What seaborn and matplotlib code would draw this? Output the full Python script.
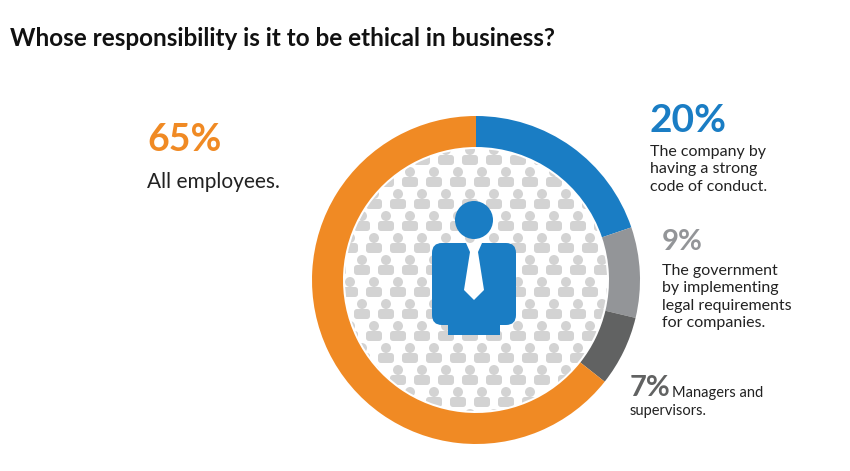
import numpy as np
import matplotlib.pyplot as plt
import matplotlib.patches as mpatches
import seaborn as sns

shares = [20, 9, 7, 65]
colors = ["#1a7dc4", "#939598", "#616262", "#f08a24"]
pcts = ["20%", "9%", "7%", "65%"]
labels = ["The company by\nhaving a strong\ncode of conduct.",
          "The government\nby implementing\nlegal requirements\nfor companies.",
          "Managers and\nsupervisors.",
          "All employees."]

sns.set_theme(style="white")
plt.rcParams['font.family'] = ['Lato', 'DejaVu Sans']

W, H = 850, 471
fig = plt.figure(figsize=(W / 100, H / 100), dpi=100)
ax = fig.add_axes([0, 0, 1, 1])
ax.set_xlim(0, W)
ax.set_ylim(0, H)
ax.set_aspect('equal')
ax.axis('off')

cx, cy = 476, H - 280
R, ring = 164, 31

ax.pie(shares, colors=colors, startangle=90, counterclock=False,
       center=(cx, cy), radius=R, wedgeprops=dict(width=ring, linewidth=0))
ax.set_xlim(0, W)
ax.set_ylim(0, H)

# background crowd pattern, clipped to inner circle
clip = mpatches.Circle((cx, cy), R - ring - 2, transform=ax.transData)
for row, y in enumerate(np.arange(cy - 140, cy + 150, 22)):
    off = 0 if row % 2 == 0 else 12
    for x in np.arange(cx - 150 + off, cx + 150, 24):
        h = mpatches.Circle((x, y + 6), 5, color="#d3d3d3", lw=0)
        b = mpatches.FancyBboxPatch((x - 8, y - 9), 16, 10, boxstyle="round,pad=0,rounding_size=3",
                                    color="#d3d3d3", lw=0)
        for p in (h, b):
            ax.add_patch(p)
            p.set_clip_path(clip)

# main person
blue = "#1a7dc4"
ax.add_patch(mpatches.Circle((474, H - 220), 19, color=blue, lw=0))
ax.add_patch(mpatches.FancyBboxPatch((432, H - 325), 84, 82,
                                     boxstyle="round,pad=0,rounding_size=10", color=blue, lw=0))
ax.add_patch(mpatches.Rectangle((448, H - 335), 52, 20, color=blue, lw=0))
ax.add_patch(mpatches.Polygon([(466, H - 243), (482, H - 243), (478, H - 252), (484, H - 290),
                               (474, H - 300), (464, H - 290), (470, H - 252)],
                              color="white", lw=0))

ax.text(10, H - 38, "Whose responsibility is it to be ethical in business?",
        fontsize=17.5, fontweight='bold', color="#111111", va='center')

ax.text(147, H - 140, pcts[3], fontsize=27, fontweight='bold', color=colors[3], va='center')
ax.text(147, H - 182, labels[3], fontsize=15, color="#222222", va='center')

ax.text(650, H - 120, pcts[0], fontsize=28, fontweight='bold', color=colors[0], va='center')
ax.text(650, H - 145, labels[0], fontsize=11.5, color="#222222", va='top', linespacing=1.3)

ax.text(662, H - 242, pcts[1], fontsize=21, fontweight='bold', color=colors[1], va='center')
ax.text(662, H - 264, labels[1], fontsize=11.5, color="#222222", va='top', linespacing=1.3)

ax.text(630, H - 388, pcts[2], fontsize=21, fontweight='bold', color=colors[2], va='center')
ax.text(672, H - 393, labels[2].split("\n")[0], fontsize=10.5, color="#222222", va='center')
ax.text(630, H - 411, labels[2].split("\n")[1], fontsize=10.5, color="#222222", va='center')

fig.savefig("out.png", dpi=100)
